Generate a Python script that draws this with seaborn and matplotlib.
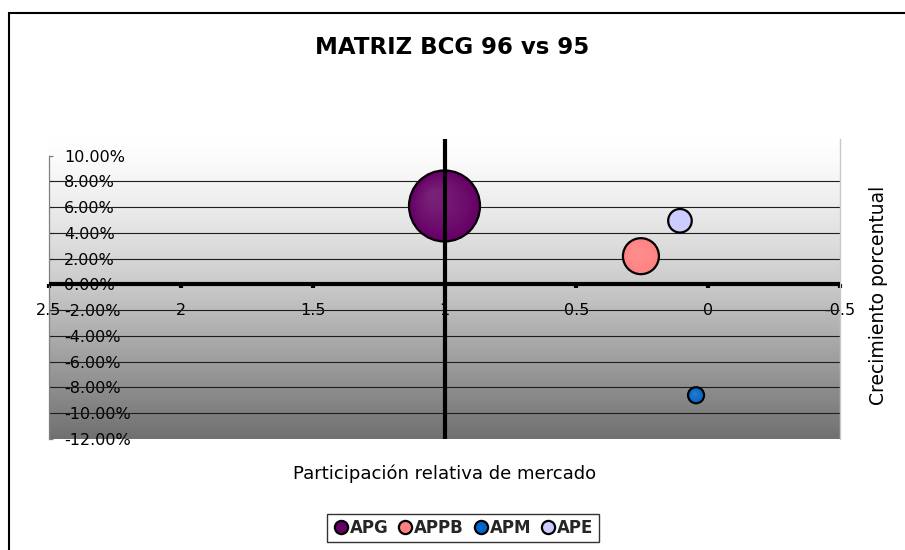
import numpy as np
import pandas as pd
import matplotlib
matplotlib.use("Agg")
import matplotlib.pyplot as plt
import matplotlib.transforms as mtransforms
from matplotlib.colors import to_rgb
from matplotlib.lines import Line2D
from matplotlib.patches import Rectangle
import seaborn as sns

# --- data -------------------------------------------------------------
productos = ["APG", "APPB", "APM", "APE"]
participacion = [1.0, 0.255, 0.046, 0.107]      # relative market share
crecimiento = [0.061, 0.022, -0.086, 0.0495]     # growth rate
ventas = [100, 25.7, 5.1, 11.0]                  # bubble size
colores = ["#660066", "#FF8080", "#0066CC", "#CCCCFF"]

x_ticks = [2.5, 2, 1.5, 1, 0.5, 0, -0.5]
x_labels = ["2.5", "2", "1.5", "1", "0.5", "0", "-0.5"]
y_ticks = [-0.12, -0.10, -0.08, -0.06, -0.04, -0.02, 0.0,
           0.02, 0.04, 0.06, 0.08, 0.10]
y_labels = [f"{v * 100:.2f}%" for v in y_ticks]
grid_levels = [-0.10, -0.08, -0.06, -0.04, -0.02, 0.02, 0.04, 0.06, 0.08]

df = pd.DataFrame({
    "producto": productos,
    "participacion": participacion,
    "crecimiento": crecimiento,
    "ventas": ventas,
})

sns.set_theme(style="white")
plt.rcParams["font.family"] = ["DejaVu Sans"]

W, H = 905, 550
fig = plt.figure(figsize=(W / 100, H / 100), dpi=100)
fig.patch.set_facecolor("white")
ax = fig.add_axes([49 / W, 111 / H, 791 / W, 300 / H])

X_LIM = (2.5, -0.5)
Y_LIM = (-0.12, 0.113)

# plot-area gradient: white at the top, dark grey at the bottom
t = np.linspace(0, 1, 300)
g = np.where(t < 0.49, 255 - (255 - 202) * (t / 0.49) ** 1.3,
             202 - (202 - 112) * (t - 0.49) / 0.51) / 255.0
grad = np.repeat(g[:, None], 2, axis=1)
ax.imshow(np.dstack([grad, grad, grad]), extent=(X_LIM[0], X_LIM[1], Y_LIM[0], Y_LIM[1]),
          aspect="auto", zorder=0, interpolation="bilinear")

for lvl in grid_levels:
    ax.axhline(lvl, color="#1e1e1e", lw=0.8, zorder=1)

# bubbles
S_MAX = (71 * 0.72) ** 2
sizes = {p: S_MAX * v / max(ventas) for p, v in zip(productos, ventas)}
palette = dict(zip(productos, colores))
sns.scatterplot(data=df, x="participacion", y="crecimiento", hue="producto",
                palette=palette, size="producto", sizes=sizes,
                edgecolor="black", linewidth=1.6, legend=False, ax=ax, zorder=5)

# soft highlight towards the upper left of each bubble
n_layers = 10
for p, xv, yv, c in zip(productos, participacion, crecimiento, colores):
    s = sizes[p]
    r = np.sqrt(s) / 2
    light = tuple(0.6 * np.array(to_rgb(c)) + 0.4)
    for k in range(1, n_layers + 1):
        f = 1 - 0.85 * k / n_layers
        off = 0.35 * r * (1 - f)
        tr = mtransforms.offset_copy(ax.transData, fig=fig, x=-off, y=off, units="points")
        ax.scatter([xv], [yv], s=s * f * f, color=light, alpha=0.045,
                   linewidths=0, transform=tr, zorder=6)

# axes lines crossing at (1, 0)
ax.axvline(1.0, color="black", lw=3, zorder=7)
ax.axhline(0.0, color="black", lw=3, zorder=4)

ax.set_xlim(*X_LIM)
ax.set_ylim(*Y_LIM)
ax.set_xticks(x_ticks)
ax.set_xticklabels(x_labels)
ax.set_yticks(y_ticks)
ax.set_yticklabels(y_labels)
ax.set_xlabel("")
ax.set_ylabel("")

ax.spines["bottom"].set_position(("data", 0))
ax.spines["bottom"].set_visible(False)
ax.spines["top"].set_visible(False)
ax.spines["left"].set_bounds(-0.12, 0.10)
ax.spines["left"].set_color("#808080")
ax.spines["left"].set_linewidth(0.9)
ax.spines["right"].set_color("#c8c8c8")
ax.spines["right"].set_linewidth(1.0)

ax.tick_params(axis="x", direction="out", length=3, width=3, color="black",
               pad=10, labelsize=11.5, labelcolor="black", bottom=True)
ax.tick_params(axis="y", direction="in", length=3, width=0.9, color="#808080",
               pad=-11, labelsize=11.5, labelcolor="black", left=True)
for lbl in ax.get_yticklabels():
    lbl.set_horizontalalignment("left")

# titles
fig.text(452 / W, 1 - 48 / H, "MATRIZ BCG 96 vs 95", ha="center", va="center",
         fontsize=16.5, fontweight="bold", color="black")
fig.text(445 / W, 1 - 474 / H, "Participación relativa de mercado",
         ha="center", va="center", fontsize=13, color="black")
fig.text(878 / W, 1 - 295 / H, "Crecimiento porcentual", rotation=90,
         ha="center", va="center", fontsize=13.5, color="black")

# legend
handles = [Line2D([0], [0], marker="o", linestyle="", markersize=9.5,
                  markerfacecolor=c, markeredgecolor="black", markeredgewidth=1.6)
           for c in colores]
leg = fig.legend(handles, productos, ncol=4, loc="center",
                 bbox_to_anchor=(463 / W, 1 - 528 / H),
                 prop={"weight": "bold", "size": 12},
                 frameon=True, fancybox=False, edgecolor="black",
                 handletextpad=0.05, columnspacing=0.5, handlelength=1.0,
                 borderpad=0.3, borderaxespad=0)
leg.get_frame().set_linewidth(1.0)

# chart-area border
fig.add_artist(Rectangle((8.5 / W, -0.1), 1.2, 1.1 - 12.7 / H,
                         transform=fig.transFigure, fill=False,
                         edgecolor="black", lw=1.5, zorder=10))

fig.savefig("out.png", dpi=100)
